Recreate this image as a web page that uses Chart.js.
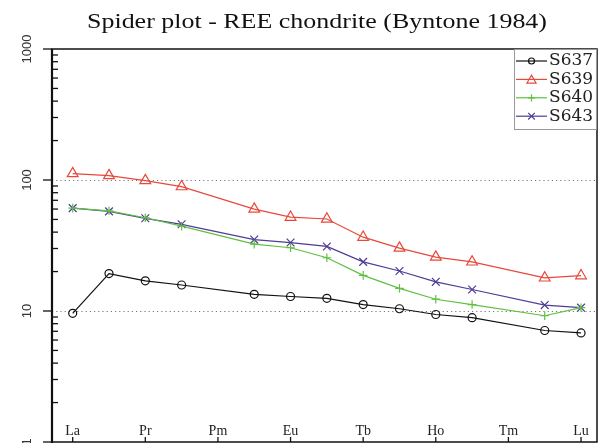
<!DOCTYPE html>
<html>
<head>
<meta charset="utf-8">
<script src="https://cdn.jsdelivr.net/npm/chart.js@4"></script>
<style>
  html, body { margin: 0; padding: 0; background: #fff; overflow: hidden; }
  canvas { display: block; }
</style>
</head>
<body>
<canvas id="chart" width="600" height="443"></canvas>
<script>
// REE elements (x positions are their index)
const elements = ["La", "Ce", "Pr", "Nd", "Pm", "Sm", "Eu", "Gd", "Tb", "Dy", "Ho", "Er", "Tm", "Yb", "Lu"];
// only every other element gets a label on the axis
const xTickLabels = ["La", "Pr", "Pm", "Eu", "Tb", "Ho", "Tm", "Lu"];
const yTickValues = [1, 10, 100, 1000];
const title = "Spider plot - REE chondrite (Byntone 1984)";

// chondrite normalised values, Pm and Tm not measured
const s637 = [9.6, 19.3, 17.0, 15.8, null, 13.4, 12.9, 12.5, 11.2, 10.4, 9.4, 8.9, null, 7.1, 6.8];
const s639 = [112, 108, 99, 89, null, 60, 52, 50.4, 36.6, 30.2, 25.8, 23.7, null, 17.9, 18.6];
const s640 = [61, 58.2, 51.5, 44.4, null, 32.4, 30.4, 25.5, 18.7, 14.9, 12.3, 11.2, null, 9.2, 10.6];
const s643 = [61, 57.6, 51, 45.9, null, 35.1, 33.3, 31.1, 23.7, 20.2, 16.7, 14.6, null, 11.1, 10.6];

const toPoints = (arr) => arr.map((v, i) => ({ x: i, y: v }));

const series = [
  { label: "S637", data: s637, color: "#111111", style: "circle", r: 4 },
  { label: "S639", data: s639, color: "#e8483a", style: "triangle", r: 6.2 },
  { label: "S640", data: s640, color: "#5fc042", style: "cross", r: 4.3 },
  { label: "S643", data: s643, color: "#4e3c95", style: "crossRot", r: 5.5 }
];

// simple marker drawing for the legend
function drawMarker(ctx, style, x, y, r) {
  ctx.beginPath();
  if (style === "circle") {
    ctx.arc(x, y, r, 0, Math.PI * 2);
  } else if (style === "triangle") {
    ctx.moveTo(x, y - r);
    ctx.lineTo(x + r * 0.866, y + r / 2);
    ctx.lineTo(x - r * 0.866, y + r / 2);
    ctx.closePath();
  } else if (style === "cross") {
    ctx.moveTo(x - r, y); ctx.lineTo(x + r, y);
    ctx.moveTo(x, y - r); ctx.lineTo(x, y + r);
  } else if (style === "crossRot") {
    const d = r * 0.707;
    ctx.moveTo(x - d, y - d); ctx.lineTo(x + d, y + d);
    ctx.moveTo(x + d, y - d); ctx.lineTo(x - d, y + d);
  }
  ctx.stroke();
}

const axesPlugin = {
  id: "rAxes",
  beforeDatasetsDraw(chart) {
    const { ctx, chartArea: a, scales: { y } } = chart;
    // dotted reference lines at 10 and 100
    ctx.save();
    ctx.strokeStyle = "#777";
    ctx.lineWidth = 1;
    ctx.setLineDash([1.2, 3]);
    [10, 100].forEach((v) => {
      const py = Math.round(y.getPixelForValue(v)) + 0.5;
      ctx.beginPath();
      ctx.moveTo(a.left, py);
      ctx.lineTo(a.right, py);
      ctx.stroke();
    });
    ctx.restore();
  },
  afterDatasetsDraw(chart) {
    const { ctx, chartArea: a, scales: { x, y } } = chart;
    ctx.save();

    // title, the original is a bit stretched sideways
    ctx.save();
    ctx.translate(317, 28);
    ctx.scale(1.18, 1);
    ctx.fillStyle = "#111";
    ctx.font = "22px 'Liberation Serif', 'Times New Roman', serif";
    ctx.textAlign = "center";
    ctx.textBaseline = "alphabetic";
    ctx.fillText(title, 0, 0);
    ctx.restore();

    ctx.strokeStyle = "#111";
    // box
    ctx.lineWidth = 1.5;
    ctx.strokeRect(a.left, a.top, a.right - a.left, a.bottom - a.top);
    ctx.lineWidth = 2.2;
    ctx.beginPath();
    ctx.moveTo(a.left, a.top);
    ctx.lineTo(a.left, a.bottom + 2);
    ctx.stroke();

    // y ticks: majors outside, minors inside
    ctx.lineWidth = 1.3;
    for (let d = 1; d < 1000; d *= 10) {
      for (let m = 2; m <= 9; m++) {
        const py = y.getPixelForValue(d * m);
        ctx.beginPath();
        ctx.moveTo(a.left, py);
        ctx.lineTo(a.left + 6, py);
        ctx.stroke();
      }
    }
    ctx.fillStyle = "#333";
    ctx.font = "13px 'Liberation Sans', Arial, sans-serif";
    ctx.textAlign = "center";
    ctx.textBaseline = "middle";
    yTickValues.forEach((v) => {
      const py = y.getPixelForValue(v);
      ctx.beginPath();
      ctx.moveTo(a.left - 9, py);
      ctx.lineTo(a.left, py);
      ctx.stroke();
      ctx.save();
      ctx.translate(27, py);
      ctx.rotate(-Math.PI / 2);
      ctx.fillText(String(v), 0, 0);
      ctx.restore();
    });

    // x ticks and labels inside the plot
    ctx.fillStyle = "#222";
    ctx.font = "14px 'Liberation Serif', 'Times New Roman', serif";
    ctx.textBaseline = "alphabetic";
    xTickLabels.forEach((lab) => {
      const px = x.getPixelForValue(elements.indexOf(lab));
      ctx.beginPath();
      ctx.moveTo(px, a.bottom);
      ctx.lineTo(px, a.bottom - 5);
      ctx.stroke();
      ctx.fillText(lab, px, a.bottom - 7);
    });

    // legend in top right corner
    const lx = 514, ly = a.top, lw = a.right - lx, lh = 80;
    ctx.fillStyle = "#fff";
    ctx.fillRect(lx, ly, lw, lh);
    ctx.strokeStyle = "#999";
    ctx.lineWidth = 1;
    ctx.strokeRect(lx + 0.5, ly + 0.5, lw - 1, lh);
    ctx.font = "17px 'DejaVu Serif', serif";
    ctx.textAlign = "left";
    ctx.textBaseline = "middle";
    chart.data.datasets.forEach((ds, i) => {
      const s = series[i];
      const cy = ly + 12 + i * 18.4;
      ctx.strokeStyle = s.color;
      ctx.lineWidth = 1.2;
      ctx.beginPath();
      ctx.moveTo(516, cy);
      ctx.lineTo(547, cy);
      ctx.stroke();
      drawMarker(ctx, s.style, 531.5, cy + (s.style === "triangle" ? 1 : 0), s.style === "circle" ? 3 : s.r * 0.85);
      ctx.fillStyle = "#222";
      ctx.fillText(ds.label, 549, cy);
    });
    ctx.restore();
  }
};

new Chart(document.getElementById("chart"), {
  type: "line",
  data: {
    datasets: series.map((s) => ({
      label: s.label,
      data: toPoints(s.data),
      borderColor: s.color,
      backgroundColor: "rgba(0,0,0,0)",
      borderWidth: 1.2,
      pointStyle: s.style,
      pointRadius: s.r,
      pointBorderWidth: 1.2,
      pointBorderColor: s.color,
      pointBackgroundColor: "rgba(0,0,0,0)",
      spanGaps: true,
      tension: 0
    }))
  },
  options: {
    responsive: false,
    animation: false,
    layout: { autoPadding: false, padding: { left: 52, right: 3, top: 49, bottom: 1 } },
    scales: {
      x: { type: "linear", min: -0.57, max: 14.44, display: false },
      y: { type: "logarithmic", min: 1, max: 1000, display: false }
    },
    plugins: {
      legend: { display: false },
      tooltip: { enabled: false },
      title: { display: false }
    }
  },
  plugins: [axesPlugin]
});
</script>
</body>
</html>
